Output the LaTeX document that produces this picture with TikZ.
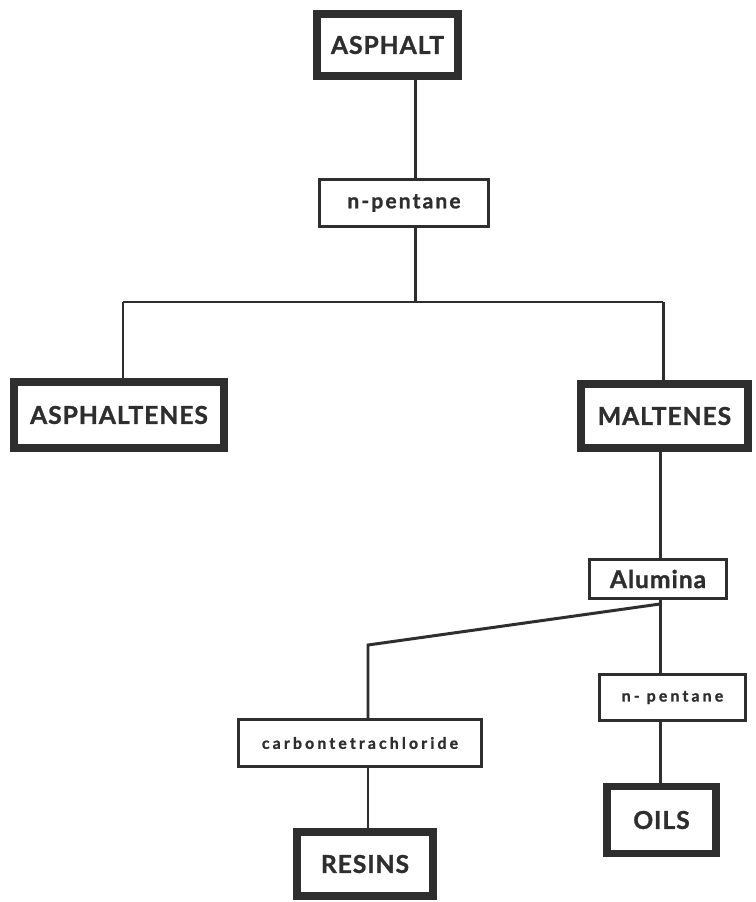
\documentclass[tikz,border=0pt]{standalone}
\usepackage{fontspec}
\setmainfont{Lato}[BoldFeatures={FakeBold=1.2}]
\usetikzlibrary{positioning}
\usetikzlibrary{calc}

\definecolor{ink}{HTML}{2E2E2E}

\begin{document}
\begin{tikzpicture}[x=0.02cm,y=-0.02cm,line width=1.7pt,draw=ink]
			\tikzset{heavybox/.style = {shape=rectangle, draw=ink, line width=4.5pt, fill=white, inner sep=0pt, outer sep=0pt, text=ink, font=\fontsize{14}{16}\selectfont\bfseries\addfontfeatures{LetterSpace=4}}}
			\tikzset{lightbox/.style = {shape=rectangle, draw=ink, line width=1.7pt, fill=white, inner sep=0pt, outer sep=0pt, text=ink, font=\fontsize{12}{14}\selectfont\bfseries\addfontfeatures{LetterSpace=10}}}
			\tikzset{tinytext/.style = {font=\fontsize{9}{11}\selectfont\bfseries\addfontfeatures{LetterSpace=20}}}
			
			\useasboundingbox[fill=white] (0,0) rectangle (755,902);
			
			% boxes
			\node[heavybox, minimum width=2.82cm, minimum height=1.24cm] (ASPHALT) at (387.5,45) {ASPHALT};
			\node[lightbox, minimum width=3.38cm, minimum height=0.94cm] (PENTANE) at (404,203) {n-pentane};
			\node[heavybox, minimum width=4.2cm, minimum height=1.32cm] (ASPHALTENES) at (119,415) {ASPHALTENES};
			\node[heavybox, minimum width=3.34cm, minimum height=1.28cm] (MALTENES) at (664.5,416) {MALTENES};
			\node[lightbox, minimum width=2.74cm, minimum height=0.78cm, font=\fontsize{14}{16}\selectfont\bfseries\addfontfeatures{LetterSpace=4}] (ALUMINA) at (658,579) {Alumina};
			\node[lightbox, tinytext, minimum width=2.92cm, minimum height=0.92cm] (PENTANEB) at (672.5,697.5) {n- pentane};
			\node[lightbox, tinytext, minimum width=4.86cm, minimum height=0.94cm] (CARBON) at (360,743) {carbontetrachloride};
			\node[heavybox, minimum width=2.72cm, minimum height=1.28cm] (RESINS) at (365,864) {RESINS};
			\node[heavybox, minimum width=2.18cm, minimum height=1.34cm] (OILS) at (661.5,820) {OILS};
			
			% junctions
			\coordinate (SPLIT) at (415,302);
			\coordinate (LEFTEND) at (123,302);
			\coordinate (RIGHTEND) at (663,302);
			\coordinate (FORK) at (660,604);
			\coordinate (BEND) at (368,645);
			
			% connectors
			\draw (ASPHALT.south -| SPLIT) -- (PENTANE.north -| SPLIT);
			\draw (PENTANE.south -| SPLIT) -- (SPLIT);
			\draw (LEFTEND) -- (RIGHTEND);
			\draw (LEFTEND) -- (ASPHALTENES.north -| LEFTEND);
			\draw (RIGHTEND) -- (MALTENES.north -| RIGHTEND);
			\draw (MALTENES.south -| FORK) -- (ALUMINA.north -| FORK);
			\draw (ALUMINA.south -| FORK) -- (PENTANEB.north -| FORK);
			\draw (PENTANEB.south -| FORK) -- (OILS.north -| FORK);
			\draw (FORK) -- (BEND) -- (CARBON.north -| BEND);
			\draw (CARBON.south -| BEND) -- (RESINS.north -| BEND);
			
			\end{tikzpicture}
\end{document}
